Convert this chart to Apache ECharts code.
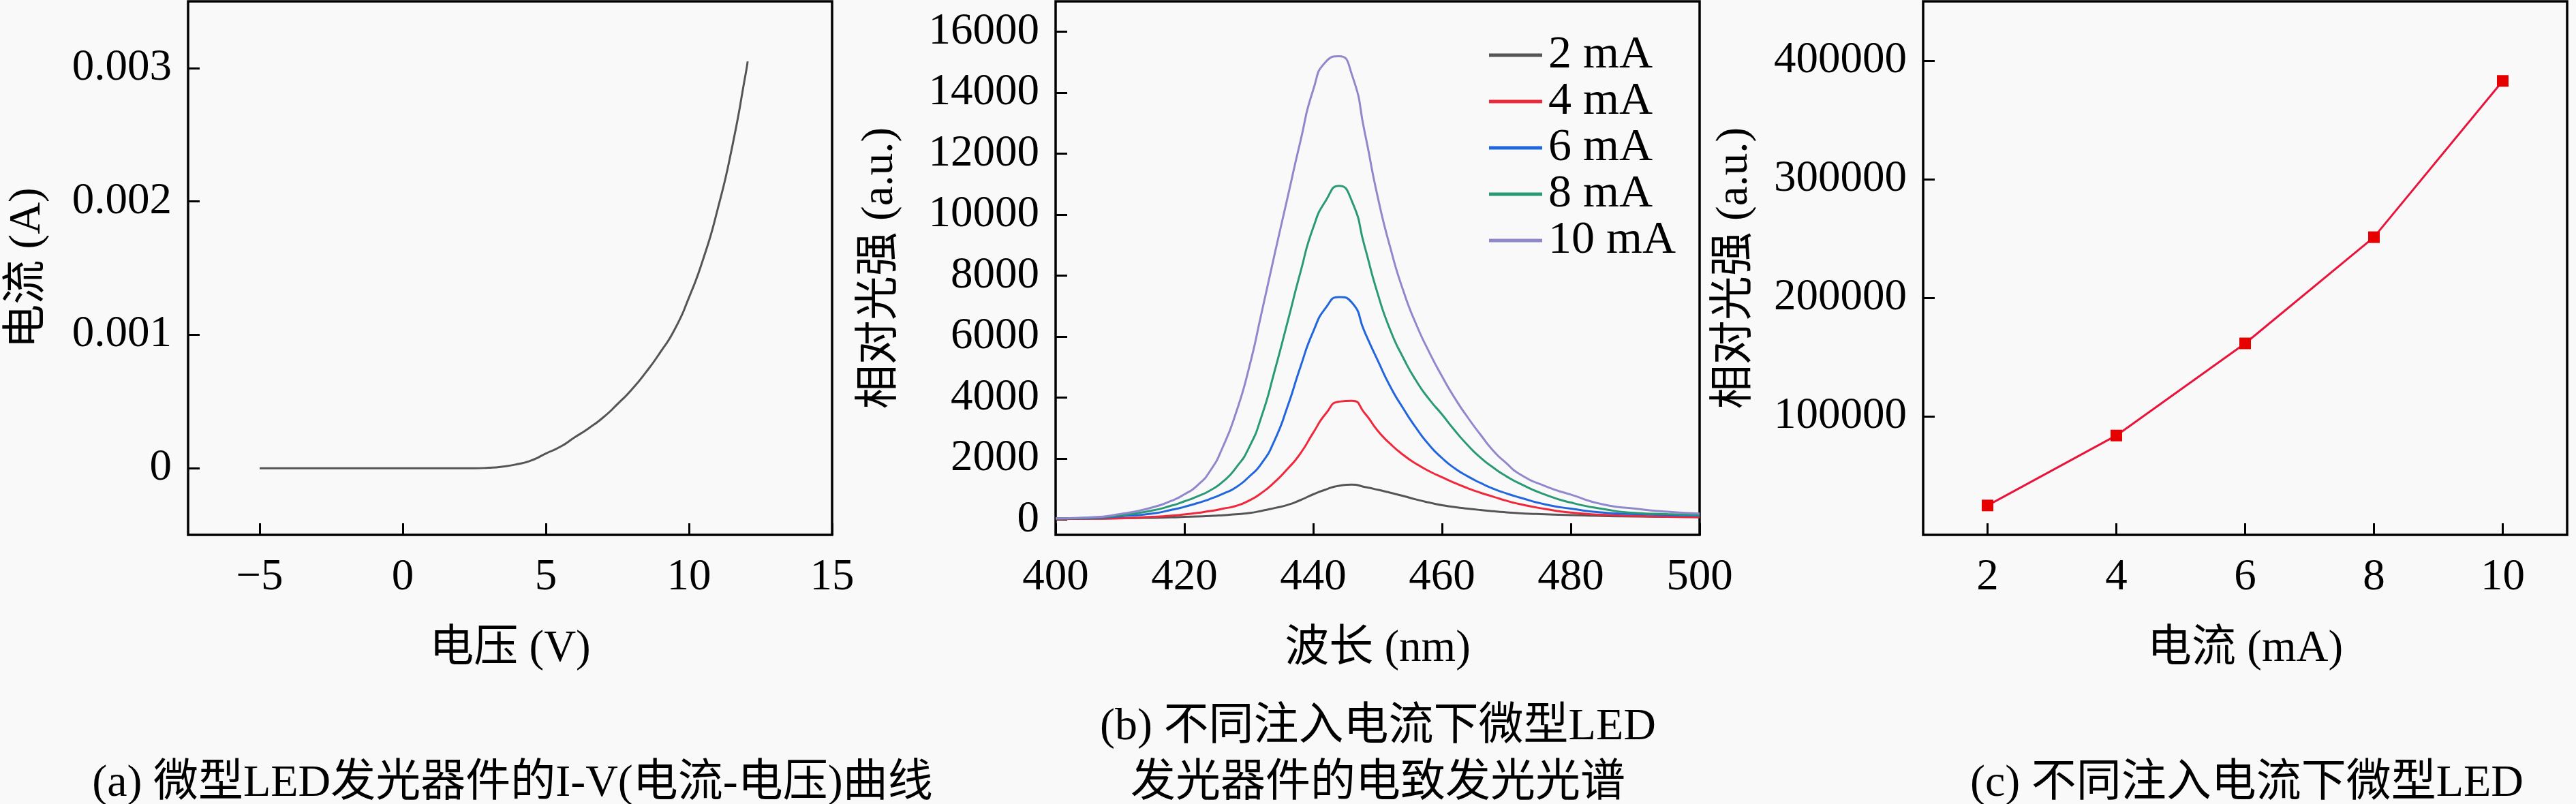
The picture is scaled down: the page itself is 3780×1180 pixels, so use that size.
<!DOCTYPE html>
<html>
<head>
<meta charset="utf-8">
<script src="https://cdn.jsdelivr.net/npm/echarts@6/dist/echarts.min.js"></script>
<style>
  html, body { margin: 0; padding: 0; background: #f9f9f9; }
  #main { width: 3780px; height: 1180px; }
</style>
</head>
<body>
<div id="main"></div>
<script>
// (a) I-V curve
var ivVoltage = [-5, 0, 2, 2.5, 3, 3.5, 4, 4.5, 5, 5.5, 6, 6.5, 7, 7.5, 8, 8.5, 9, 9.5, 10, 10.5, 11, 11.5, 12, 12.05];
var ivCurrent = [0, 0, 0, 0, 0.000003, 0.000012, 0.00003, 0.000059, 0.00011, 0.00016, 0.00023, 0.0003, 0.00038, 0.00048,
                 0.00059, 0.00072, 0.00087, 0.00104, 0.00128, 0.00157, 0.00194, 0.0024, 0.00298, 0.00305];
var ivXTicks = [-5, 0, 5, 10, 15];
var ivYTicks = [0, 0.001, 0.002, 0.003];

// (b) EL spectra, one value per wavelength (nm)
var wavelength = [400, 405, 410, 415,
                  418, 420, 422, 424, 426, 428, 430, 432, 434, 436, 438, 440, 442, 444,
                  446, 448, 450, 452, 454, 456, 458, 460, 462, 464, 466, 468, 470, 472,
                  476, 480, 485, 490, 495, 500];
var el2  = [20, 30, 45, 60,
            75, 90, 105, 120, 145, 175, 215, 290, 380, 480, 640, 830, 990, 1110,
            1150, 1070, 980, 880, 775, 660, 560, 470, 410, 360, 315, 275, 240, 210,
            175, 150, 120, 105, 90, 80];
var el4  = [20, 30, 40, 90,
            130, 170, 220, 280, 360, 450, 620, 880, 1230, 1660, 2170, 2850, 3490, 3870,
            3900, 3490, 2920, 2480, 2120, 1830, 1590, 1390, 1200, 1030, 880, 750, 620, 510,
            350, 230, 160, 120, 95, 80];
var el6  = [40, 50, 110, 200,
            320, 420, 540, 680, 850, 1060, 1400, 1850, 2600, 3700, 5000, 6170, 6960, 7300,
            7120, 6150, 5230, 4350, 3640, 3000, 2450, 2020, 1680, 1420, 1200, 1010, 860, 730,
            500, 360, 230, 180, 150, 130];
var el8  = [40, 60, 140, 300,
            460, 600, 760, 960, 1250, 1700, 2350, 3400, 4870, 6470, 8100, 9580, 10480, 10950,
            10450, 8950, 7420, 6200, 5300, 4550, 3950, 3450, 2920, 2440, 2030, 1700, 1420, 1190,
            820, 560, 350, 220, 180, 150];
var el10 = [40, 70, 180, 400,
            620, 830, 1120, 1600, 2400, 3500, 4950, 6800, 8700, 10550, 12400, 14100, 15030, 15200,
            14600, 12700, 10600, 8900, 7500, 6400, 5500, 4700, 3980, 3350, 2780, 2250, 1850, 1500,
            1100, 820, 500, 360, 260, 200];
var spectrumNames = ['2 mA', '4 mA', '6 mA', '8 mA', '10 mA'];
var spectrumValues = [el2, el4, el6, el8, el10];
var elXTicks = [400, 420, 440, 460, 480, 500];
var elYTicks = [0, 2000, 4000, 6000, 8000, 10000, 12000, 14000, 16000];

// (c) relative intensity vs injection current
var currentMA = [2, 4, 6, 8, 10];
var totalIntensity = [24800, 83800, 161500, 251100, 382900];
var ciXTicks = [2, 4, 6, 8, 10];
var ciYTicks = [100000, 200000, 300000, 400000];

var spectrumColors = ['#555555', '#f0283c', '#2266dd', '#2a9a74', '#9088cc'];
var FONT = "'Liberation Serif', 'Noto Sans CJK SC', serif";
var FS = 65;

function pairs(xs, ys) {
  return xs.map(function (x, i) { return [x, ys[i]]; });
}
function plain(v) {
  return String(v).replace('-', '\u2212');
}

function makeXAxis(gi, min, max, ticks, name) {
  return {
    type: 'value', gridIndex: gi, min: min, max: max,
    name: name, nameLocation: 'middle', nameGap: 135,
    nameTextStyle: { fontFamily: FONT, fontSize: FS, color: '#000' },
    axisLine: { show: false, onZero: false },
    splitLine: { show: false },
    axisTick: { show: true, inside: true, length: 17, customValues: ticks, lineStyle: { color: '#000', width: 3 } },
    axisLabel: { customValues: ticks, margin: 30, fontFamily: FONT, fontSize: FS, color: '#000', formatter: plain }
  };
}
function makeYAxis(gi, min, max, ticks, name, gap) {
  return {
    type: 'value', gridIndex: gi, min: min, max: max,
    name: name, nameLocation: 'middle', nameGap: gap,
    nameTextStyle: { fontFamily: FONT, fontSize: FS, color: '#000' },
    axisLine: { show: false, onZero: false },
    splitLine: { show: false },
    axisTick: { show: true, inside: true, length: 17, customValues: ticks, lineStyle: { color: '#000', width: 3 } },
    axisLabel: { customValues: ticks, margin: 24, fontFamily: FONT, fontSize: FS, color: '#000', formatter: plain }
  };
}
function makeGrid(left) {
  return {
    left: left, top: 2, width: 945, height: 783,
    show: true, borderColor: '#000', borderWidth: 3.5, backgroundColor: 'transparent'
  };
}

var series = [{
  type: 'line', xAxisIndex: 0, yAxisIndex: 0,
  data: pairs(ivVoltage, ivCurrent),
  showSymbol: false, smooth: 0.6, smoothConstraint: false,
  lineStyle: { color: '#555555', width: 3 }
}];
for (var i = 0; i < spectrumNames.length; i++) {
  series.push({
    type: 'line', name: spectrumNames[i], xAxisIndex: 1, yAxisIndex: 1,
    data: pairs(wavelength, spectrumValues[i]),
    showSymbol: false, smooth: 0.6, smoothConstraint: false,
    color: spectrumColors[i],
    lineStyle: { color: spectrumColors[i], width: 3 }
  });
}
series.push({
  type: 'line', xAxisIndex: 2, yAxisIndex: 2,
  data: pairs(currentMA, totalIntensity),
  symbol: 'rect', symbolSize: 17,
  itemStyle: { color: '#e60000' },
  lineStyle: { color: '#e8143c', width: 3 }
});

var chart = echarts.init(document.getElementById('main'));
chart.setOption({
  backgroundColor: '#f9f9f9',
  animation: false,
  grid: [makeGrid(276), makeGrid(1549), makeGrid(2822)],
  xAxis: [
    makeXAxis(0, -7.5, 15, ivXTicks, '电压 (V)'),
    makeXAxis(1, 400, 500, elXTicks, '波长 (nm)'),
    makeXAxis(2, 1, 11, ciXTicks, '电流 (mA)')
  ],
  yAxis: [
    makeYAxis(0, -0.0005, 0.0035, ivYTicks, '电流 (A)', 203),
    makeYAxis(1, -500, 17000, elYTicks, '相对光强 (a.u.)', 225),
    makeYAxis(2, 0, 450000, ciYTicks, '相对光强 (a.u.)', 244)
  ],
  legend: {
    data: spectrumNames,
    orient: 'vertical',
    left: 2180, top: 42,
    itemWidth: 78, itemHeight: 5, itemGap: 0,
    icon: 'rect',
    textStyle: { fontFamily: FONT, fontSize: 68, color: '#000', lineHeight: 60, padding: [0, 0, 0, 4] }
  },
  series: series,
  graphic: [
    { type: 'text', x: 752, y: 1151, style: { text: '(a) 微型LED发光器件的I-V(电流-电压)曲线', align: 'center', verticalAlign: 'middle', font: '66px ' + FONT, fill: '#000' } },
    { type: 'text', x: 2022, y: 1068, style: { text: '(b) 不同注入电流下微型LED', align: 'center', verticalAlign: 'middle', font: '66px ' + FONT, fill: '#000' } },
    { type: 'text', x: 2022, y: 1151, style: { text: '发光器件的电致发光光谱', align: 'center', verticalAlign: 'middle', font: '66px ' + FONT, fill: '#000' } },
    { type: 'text', x: 3297, y: 1151, style: { text: '(c) 不同注入电流下微型LED', align: 'center', verticalAlign: 'middle', font: '66px ' + FONT, fill: '#000' } }
  ]
});
</script>
</body>
</html>
